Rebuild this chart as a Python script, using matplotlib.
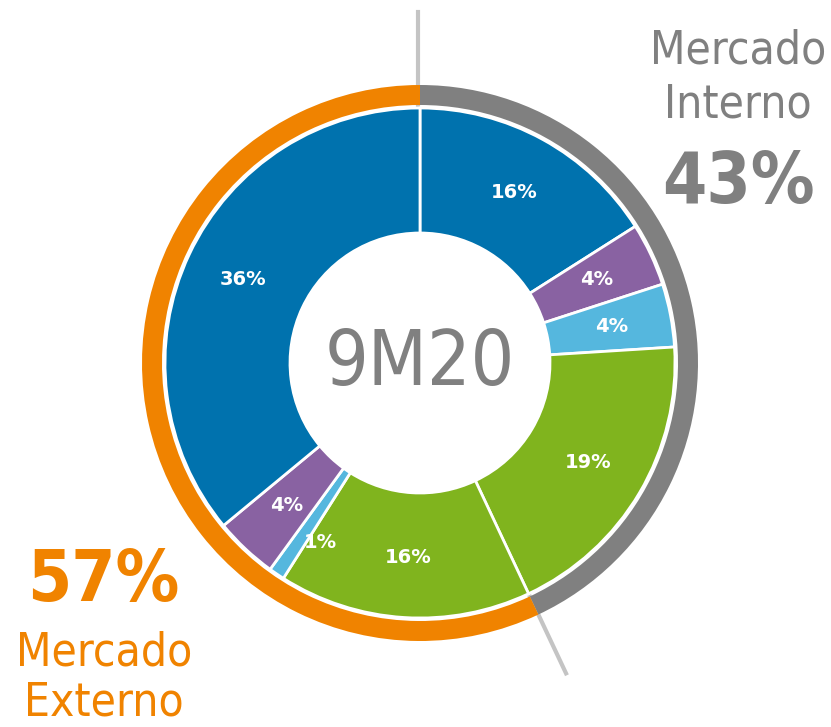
import numpy as np
import matplotlib
matplotlib.use("Agg")
import matplotlib.pyplot as plt
from matplotlib import font_manager

# inner ring, clockwise from 12 o'clock
shares = [16, 4, 4, 19, 16, 1, 4, 36]
share_colors = ["#0072ae", "#8962a2", "#55b7de", "#80b41e",
                "#80b41e", "#55b7de", "#8962a2", "#0072ae"]
# outer ring
markets = [43, 57]
market_names = [["Mercado", "Interno"], ["Mercado", "Externo"]]
market_colors = ["#808080", "#f08300"]
period = "9M20"

W, H = 831, 727
cx, cy = 420, H - 363

names = {f.name for f in font_manager.fontManager.ttflist}
if "Liberation Sans Narrow" in names:
    narrow = dict(family="Liberation Sans Narrow")
else:
    narrow = dict(family="DejaVu Sans", fontstretch="condensed")

fig = plt.figure(figsize=(W / 100, H / 100), dpi=100)
ax = fig.add_axes([0, 0, 1, 1])

# outer market ring
ax.pie(markets, colors=market_colors, startangle=90, counterclock=False,
       radius=278, center=(cx, cy),
       wedgeprops=dict(width=20, edgecolor="white", linewidth=0))

# inner ring
wedges, texts, autotexts = ax.pie(
    shares, colors=share_colors, startangle=90, counterclock=False,
    radius=255, center=(cx, cy), autopct="%.0f%%", pctdistance=0.765,
    wedgeprops=dict(width=125, edgecolor="white", linewidth=2))
for t in autotexts:
    t.set_color("white")
    t.set_fontsize(14)
    t.set_fontweight("bold")
# the tiny 1% label sits a bit off in the original
x1, y1 = autotexts[5].get_position()
autotexts[5].set_position((x1 + 10, y1 - 18))

ax.set_xlim(0, W)
ax.set_ylim(0, H)
ax.set_aspect("equal")
ax.axis("off")

# divider lines between the two markets
split = np.deg2rad(90 - 360 * markets[0] / 100)
ax.plot([cx - 2, cx - 2], [cy + 257, cy + 351], color="#c4c4c4", lw=3, zorder=0)
ax.plot([cx + 257 * np.cos(split), cx + 343 * np.cos(split)],
        [cy + 257 * np.sin(split), cy + 343 * np.sin(split)],
        color="#c4c4c4", lw=3, zorder=0)

ax.text(cx, H - 364, period, ha="center", va="center", fontsize=55,
        color="#808080", **narrow)

# market labels
ax.text(738, H - 63, market_names[0][0], ha="center", va="baseline",
        fontsize=33, color=market_colors[0], **narrow)
ax.text(738, H - 118, market_names[0][1], ha="center", va="baseline",
        fontsize=33, color=market_colors[0], **narrow)
ax.text(738, H - 203, "%d%%" % markets[0], ha="center", va="baseline",
        fontsize=51, color=market_colors[0], fontweight="bold", **narrow)

ax.text(103, H - 601, "%d%%" % markets[1], ha="center", va="baseline",
        fontsize=51, color=market_colors[1], fontweight="bold", **narrow)
ax.text(104, H - 665, market_names[1][0], ha="center", va="baseline",
        fontsize=33, color=market_colors[1], **narrow)
ax.text(104, H - 716, market_names[1][1], ha="center", va="baseline",
        fontsize=33, color=market_colors[1], **narrow)

fig.savefig("out.png", dpi=100)
